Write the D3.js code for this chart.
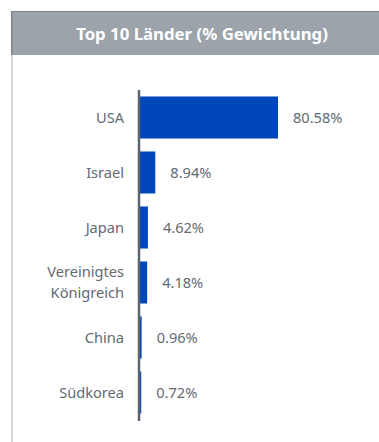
<!DOCTYPE html>
<html>
<head>
<meta charset="utf-8">
<script src="https://cdn.jsdelivr.net/npm/d3@7"></script>
<style>
  html, body { margin: 0; padding: 0; background: #fff; }
  svg { display: block; }
</style>
</head>
<body>
<svg id="chart" width="379" height="442"></svg>
<script>
// Country weights (percent of portfolio)
const countries = ["USA", "Israel", "Japan", "Vereinigtes Königreich", "China", "Südkorea"];
const weights = [80.58, 8.94, 4.62, 4.18, 0.96, 0.72];
const titleText = "Top 10 Länder (% Gewichtung)";

const svg = d3.select("#chart");
const W = 379, H = 442;
const font = "'Source Sans Pro', 'Noto Sans', 'Open Sans', sans-serif";

// Panel: grey header band with a thin light frame on the left
svg.append("rect").attr("x", 12).attr("y", 11).attr("width", W - 12).attr("height", 44).attr("fill", "#9ca3aa");
svg.append("rect").attr("x", 12).attr("y", 11).attr("width", W - 12).attr("height", 1).attr("fill", "#7d848b");
svg.append("rect").attr("x", 11).attr("y", 11).attr("width", 1.5).attr("height", 44).attr("fill", "#7d848b");
svg.append("rect").attr("x", 11).attr("y", 55).attr("width", 2).attr("height", H - 55).attr("fill", "#d3d6d9");

svg.append("text")
  .attr("x", 202).attr("y", 39.5)
  .attr("text-anchor", "middle")
  .attr("font-family", font).attr("font-weight", "bold").attr("font-size", 16.8)
  .attr("fill", "#ffffff")
  .text(titleText);

// Plot area
const x0 = 140, plotTop = 90, plotBottom = 421;
const x = d3.scaleLinear().domain([0, 80.58]).range([x0, 278]);
const y = d3.scaleBand().domain(countries).range([plotTop, plotTop + 55 * countries.length]).paddingInner(0.236).paddingOuter(0.118);

const g = svg.append("g");

g.selectAll("rect.bar").data(countries).join("rect")
  .attr("class", "bar")
  .attr("x", x(0))
  .attr("y", d => y(d))
  .attr("width", (d, i) => x(weights[i]) - x(0))
  .attr("height", y.bandwidth())
  .attr("fill", "#0047bb");

// Value labels next to each bar
g.selectAll("text.val").data(countries).join("text")
  .attr("class", "val")
  .attr("x", (d, i) => x(weights[i]) + 15)
  .attr("y", d => y(d) + y.bandwidth() / 2 + 0.5)
  .attr("dy", "0.35em")
  .attr("font-family", font).attr("font-size", 14.6)
  .attr("fill", "#626a73")
  .text((d, i) => weights[i].toFixed(2) + "%");

// Category labels (wrapping the long one onto two lines)
const labels = g.selectAll("text.cat").data(countries).join("text")
  .attr("class", "cat")
  .attr("text-anchor", "end")
  .attr("font-family", font).attr("font-size", 14.6)
  .attr("fill", "#626a73");
labels.each(function(d) {
  const t = d3.select(this);
  const parts = d.split(" ");
  const cy = y(d) + y.bandwidth() / 2;
  const lh = 21;
  parts.forEach((p, k) => {
    t.append("tspan")
      .attr("x", 124)
      .attr("y", cy + (k - (parts.length - 1) / 2) * lh)
      .attr("dy", "0.35em")
      .text(p);
  });
});

// Vertical axis line
g.append("line")
  .attr("x1", x0 - 1).attr("x2", x0 - 1)
  .attr("y1", plotTop).attr("y2", plotBottom)
  .attr("stroke", "#5b6570").attr("stroke-width", 2.5);
</script>
</body>
</html>
